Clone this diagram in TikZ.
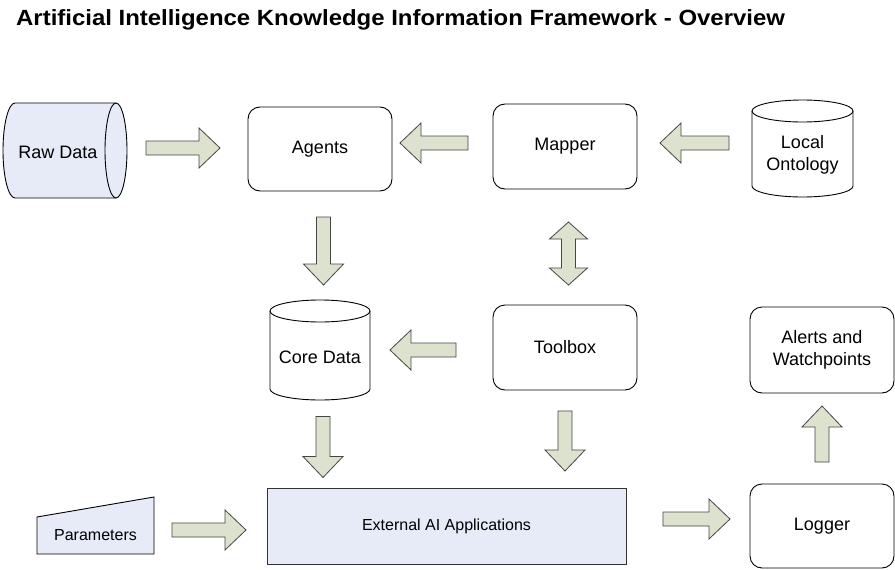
\documentclass[tikz,border=0pt]{standalone}
\usepackage{fontspec}
\setmainfont{Liberation Sans}
\usetikzlibrary{calc}

\definecolor{shapefill}{HTML}{E6EBF7}
\definecolor{arrowfill}{HTML}{DDE2CF}
\definecolor{arrowline}{HTML}{454545}

% block arrow: name, centre, rotation, length
\newcommand\blockarr[4]{%
  \begin{scope}[shift={#2},rotate=#3]
    \coordinate (#1) at (0,0);
    \filldraw[arrowbody] ({-#4/2},-7) -- ({#4/2-21},-7) -- ({#4/2-21},-20)
      -- ({#4/2},0) -- ({#4/2-21},20) -- ({#4/2-21},7) -- ({-#4/2},7) -- cycle;
  \end{scope}}

% two-headed block arrow: name, centre, rotation, length
\newcommand\dblarr[4]{%
  \begin{scope}[shift={#2},rotate=#3]
    \coordinate (#1) at (0,0);
    \filldraw[arrowbody] ({-#4/2},0) -- ({-#4/2+17},-19) -- ({-#4/2+17},-7)
      -- ({#4/2-17},-7) -- ({#4/2-17},-19) -- ({#4/2},0) -- ({#4/2-17},19)
      -- ({#4/2-17},7) -- ({-#4/2+17},7) -- ({-#4/2+17},19) -- cycle;
  \end{scope}}

\begin{document}
\begin{tikzpicture}[x=1pt,y=-1pt,
  outline/.style={draw=black, line width=0.9pt},
  arrowbody/.style={fill=arrowfill, draw=arrowline, line width=0.8pt, line join=miter},
  roundbox/.style={outline, rounded corners=12pt, fill=white, align=center,
    font=\fontsize{18}{22}\selectfont, inner sep=0pt},
  label/.style={align=center, inner sep=0pt, font=\fontsize{18}{22}\selectfont},
  smalllabel/.style={align=center, inner sep=0pt, font=\fontsize{16}{19}\selectfont}]

\useasboundingbox[fill=white] (0,0) rectangle (895,570);

% title
\node[anchor=base west, inner sep=0pt, font=\bfseries\fontsize{22}{26}\selectfont]
  (title) at (16,25) {\scalebox{1.088}[1]{Artificial Intelligence Knowledge Information Framework - Overview}};

% Raw Data (stored data)
\filldraw[outline, fill=shapefill] (15,103) -- (116,103)
  arc[start angle=-90, end angle=90, x radius=11, y radius=47.5]
  -- (15,198) arc[start angle=90, end angle=270, x radius=12, y radius=47.5] -- cycle;
\draw[outline] (116,103) arc[start angle=270, end angle=90, x radius=11, y radius=47.5];
\node[label] (raw) at (58,152) {Raw Data};

% rounded process boxes
\node[roundbox, minimum width=144pt, minimum height=84pt] (agents) at (320,149) {Agents\vphantom{p}};
\node[roundbox, minimum width=144pt, minimum height=85pt] (mapper) at (565,146.5) {Mapper};
\node[roundbox, minimum width=144pt, minimum height=85pt] (toolbox) at (565,347.5) {Toolbox};
\node[roundbox, minimum width=144pt, minimum height=86pt] (alerts) at (822,350) {Alerts and\\Watchpoints};
\node[roundbox, minimum width=144pt, minimum height=84pt] (logger) at (822,526) {Logger};

% Local Ontology (cylinder)
\filldraw[outline, fill=white] (752,111) -- (752,186)
  arc[start angle=180, end angle=0, x radius=50.5, y radius=11] -- (853,111)
  arc[start angle=0, end angle=-180, x radius=50.5, y radius=11] -- cycle;
\draw[outline] (752,111) arc[start angle=180, end angle=0, x radius=50.5, y radius=11];
\node[label] (ontology) at (802.5,155) {Local\\Ontology};

% Core Data (cylinder)
\filldraw[outline, fill=white] (270,311) -- (270,389)
  arc[start angle=180, end angle=0, x radius=50, y radius=11] -- (370,311)
  arc[start angle=0, end angle=-180, x radius=50, y radius=11] -- cycle;
\draw[outline] (270,311) arc[start angle=180, end angle=0, x radius=50, y radius=11];
\node[label] (core) at (320,357) {Core Data};

% Parameters (manual input)
\filldraw[outline, fill=shapefill] (37,517) -- (154,497) -- (154,554) -- (37,554) -- cycle;
\node[smalllabel] (params) at (95.5,535) {Parameters};

% External AI Applications
\node[outline, draw=black!80, fill=shapefill, minimum width=359pt, minimum height=76pt, inner sep=0pt,
  font=\fontsize{16}{19}\selectfont] (external) at (446.5,526) {External AI Applications};

% block arrows between the components
\blockarr{rawtoagents}{(183,148)}{0}{74}
\blockarr{mappertoagents}{(434,143)}{180}{68}
\blockarr{ontologytomapper}{(694.5,143)}{180}{69}
\blockarr{agentstocore}{(323.5,251)}{-90}{68}
\dblarr{mappertoolbox}{(568.5,253.5)}{90}{63}
\blockarr{toolboxtocore}{(423,350)}{180}{66}
\blockarr{coretoexternal}{(323,447)}{-90}{61}
\blockarr{toolboxtoexternal}{(565,441)}{-90}{60}
\blockarr{loggertoalerts}{(822,434)}{90}{56}
\blockarr{paramstoexternal}{(209,530)}{0}{74}
\blockarr{externaltologger}{(696.5,519)}{0}{67}

\end{tikzpicture}
\end{document}
